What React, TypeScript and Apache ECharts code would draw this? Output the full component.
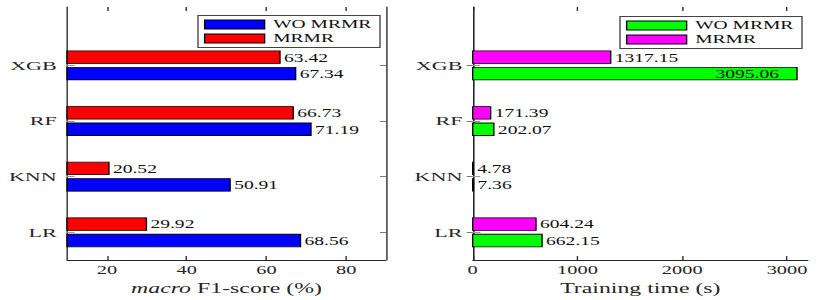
import React, { useEffect, useRef } from "react";
import * as echarts from "echarts";

// ---- data (top to bottom as drawn) ----
const categories = ["XGB", "RF", "KNN", "LR"];
const f1WoMrmr = [67.34, 71.19, 50.91, 68.56];
const f1Mrmr = [63.42, 66.73, 20.52, 29.92];
const timeWoMrmr = [3095.06, 202.07, 7.36, 662.15];
const timeMrmr = [1317.15, 171.39, 4.78, 604.24];
const f1Ticks = [20, 40, 60, 80];
const timeTicks = [0, 1000, 2000, 3000];
const legendNames = ["WO MRMR", "MRMR"];

// ---- layout helpers (the figure is horizontally stretched) ----
const W = 488;
const S = 830 / W;
const px = (a: number) => a / S;
const FONT = "'Liberation Serif', 'Times New Roman', serif";
const catPos = categories.map((_, i) => categories.length - i); // 4,3,2,1

function barRender(xMin: number, xMax: number, upper: boolean, color: string) {
  return (params: any, api: any) => {
    const xv = api.value(0);
    const yv = api.value(1) + (upper ? 0.148 : -0.148);
    const band = api.size([0, 1])[1];
    const h = band * 0.225;
    const p0 = api.coord([xMin, yv]);
    const p1 = api.coord([xv, yv]);
    const inside = (xv - xMin) / (xMax - xMin) > 0.9;
    return {
      type: "group",
      children: [
        {
          type: "rect",
          shape: { x: p0[0], y: p0[1] - h / 2, width: p1[0] - p0[0], height: h },
          style: { fill: color, stroke: "#000", lineWidth: 0.8 },
        },
        {
          type: "text",
          style: {
            text: xv.toFixed(2),
            x: inside ? p1[0] - px(18) : p1[0] + px(4),
            y: p0[1] + 0.5,
            align: inside ? "right" : "left",
            verticalAlign: "middle",
            fill: "#111",
            fontSize: 11.5,
            fontFamily: FONT,
          },
        },
      ],
    };
  };
}

function makeAxes(gridIndex: number, min: number, max: number, ticks: number[], name: string) {
  const axisColor = "#262626";
  const x = [
    {
      type: "value",
      gridIndex,
      min,
      max,
      position: "bottom",
      axisLine: { show: true, lineStyle: { color: axisColor, width: 0.8 } },
      axisTick: { show: true, inside: true, length: 4, customValues: ticks, lineStyle: { color: axisColor, width: 0.8 } },
      axisLabel: {
        customValues: ticks,
        margin: 4,
        fontSize: 12,
        fontFamily: FONT,
        color: axisColor,
        formatter: (v: number) => String(v),
      },
      splitLine: { show: false },
      name,
      nameLocation: "middle",
      nameGap: 16,
      nameTextStyle: {
        fontSize: 14,
        fontFamily: FONT,
        color: axisColor,
        rich: { i: { fontStyle: "italic", fontSize: 14, fontFamily: FONT, color: axisColor } },
      },
    },
    {
      type: "value",
      gridIndex,
      min,
      max,
      position: "top",
      axisLine: { show: false },
      axisTick: { show: true, inside: true, length: 4, customValues: ticks, lineStyle: { color: axisColor, width: 0.8 } },
      axisLabel: { show: false },
      splitLine: { show: false },
    },
  ];
  const y = [
    {
      type: "value",
      gridIndex,
      min: 0.5,
      max: 5.05,
      position: "left",
      axisLine: { show: true, lineStyle: { color: axisColor, width: 0.8 } },
      axisTick: { show: true, inside: true, length: 4.5, customValues: catPos, lineStyle: { color: "#999", width: 1 } },
      axisLabel: {
        customValues: catPos,
        margin: 6,
        fontSize: 13,
        fontFamily: FONT,
        color: axisColor,
        formatter: (v: number) => categories[categories.length - v] ?? "",
      },
      splitLine: { show: false },
    },
    {
      type: "value",
      gridIndex,
      min: 0.5,
      max: 5.05,
      position: "right",
      axisLine: { show: true, lineStyle: { color: axisColor, width: 0.8 } },
      axisTick: { show: true, inside: true, length: 3.5, customValues: catPos, lineStyle: { color: "#777", width: 1 } },
      axisLabel: { show: false },
      splitLine: { show: false },
    },
  ];
  return { x, y };
}

export default function App() {
  const ref = useRef<HTMLDivElement>(null);
  useEffect(() => {
    if (!ref.current) return;
    const chart = echarts.init(ref.current, null, { renderer: "svg", width: W, height: 300 });
    const a1 = makeAxes(0, 10, 90, f1Ticks, "{i|macro} F1-score (%)");
    const a2 = makeAxes(1, 0, 3200, timeTicks, "Training time (s)");
    const legendCommon = {
      orient: "vertical",
      icon: "rect",
      itemWidth: px(60),
      itemHeight: 9,
      itemGap: 2,
      selectedMode: false,
      padding: [3, 5, 3, 3.5],
      borderColor: "#444",
      borderWidth: 0.8,
      backgroundColor: "#fff",
      textStyle: { fontSize: 11.5, fontFamily: FONT, color: "#111", lineHeight: 10 },
    };
    const leftColors = ["#0000ff", "#ff0000"];
    const rightColors = ["#00ff00", "#ff00ff"];
    const mk = (arr: number[]) => arr.map((v, i) => [v, catPos[i]]);
    chart.setOption({
      animation: false,
      textStyle: { fontFamily: FONT },
      grid: [
        { left: px(67), right: W - px(386), top: 7, bottom: 33 },
        { left: px(472.7), right: W - px(808), top: 7, bottom: 33 },
      ],
      xAxis: [...a1.x, ...a2.x],
      yAxis: [...a1.y, ...a2.y],
      legend: [
        {
          ...legendCommon,
          left: px(198),
          top: 15.5,
          data: legendNames.map((n, i) => ({
            name: n,
            itemStyle: { color: leftColors[i], borderColor: "#000", borderWidth: 0.8 },
          })),
        },
        {
          ...legendCommon,
          left: px(620),
          top: 16.5,
          data: legendNames.map((n, i) => ({
            name: n,
            itemStyle: { color: rightColors[i], borderColor: "#000", borderWidth: 0.8 },
          })),
        },
      ],
      series: [
        {
          type: "custom",
          name: "WO MRMR",
          xAxisIndex: 0,
          yAxisIndex: 0,
          itemStyle: { color: leftColors[0] },
          renderItem: barRender(10, 90, false, leftColors[0]),
          data: mk(f1WoMrmr),
        },
        {
          type: "custom",
          name: "MRMR",
          xAxisIndex: 0,
          yAxisIndex: 0,
          itemStyle: { color: leftColors[1] },
          renderItem: barRender(10, 90, true, leftColors[1]),
          data: mk(f1Mrmr),
        },
        {
          type: "custom",
          name: "WO MRMR",
          xAxisIndex: 2,
          yAxisIndex: 2,
          itemStyle: { color: rightColors[0] },
          renderItem: barRender(0, 3200, false, rightColors[0]),
          data: mk(timeWoMrmr),
        },
        {
          type: "custom",
          name: "MRMR",
          xAxisIndex: 2,
          yAxisIndex: 2,
          itemStyle: { color: rightColors[1] },
          renderItem: barRender(0, 3200, true, rightColors[1]),
          data: mk(timeMrmr),
        },
      ],
    });
    return () => chart.dispose();
  }, []);
  return (
    <div style={{ position: "fixed", left: 0, top: 0, width: 830, height: 300, overflow: "hidden", background: "#fff" }}>
      <div
        ref={ref}
        style={{ width: W, height: 300, transform: `scaleX(${S})`, transformOrigin: "0 0" }}
      />
    </div>
  );
}
